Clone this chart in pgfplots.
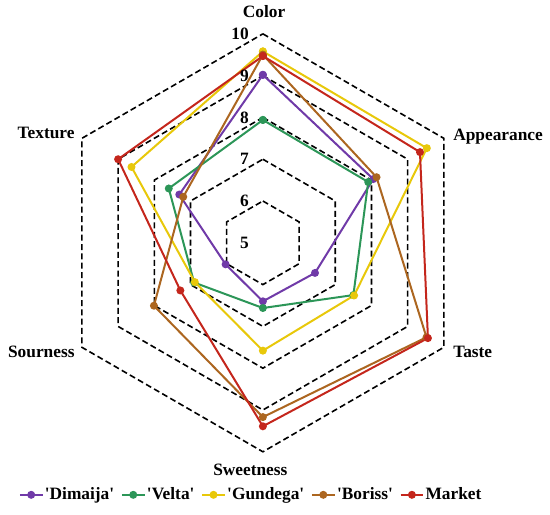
\documentclass[border=0pt]{standalone}
\usepackage{fontspec}
\setmainfont{Liberation Serif}
\usepackage{pgfplots}
\usepackage{pgfplotstable}
\pgfplotsset{compat=1.18}

\definecolor{cDim}{RGB}{112,58,168}
\definecolor{cVel}{RGB}{44,150,88}
\definecolor{cGun}{RGB}{232,200,10}
\definecolor{cBor}{RGB}{172,102,32}
\definecolor{cMar}{RGB}{196,38,28}

% sensory scores, one row per attribute (angle in degrees), first row repeated to close
\pgfplotstableread{
ang Dimaija Velta Gundega Boriss Market
90  9.02 7.94 9.58 9.50 9.47
30  8.05 7.91 9.53 8.14 9.34
-30 6.44 7.50 7.52 9.52 9.56
-90 6.40 6.56 7.58 9.17 9.39
210 6.03 6.90 6.88 8.01 7.28
150 7.31 7.60 8.63 7.20 9.00
90  9.02 7.94 9.58 9.50 9.47
}\scores

\begin{document}
\begin{tikzpicture}
\begin{axis}[
    x=31.35pt, y=31.35pt,
    xmin=-6.29, xmax=6.87, ymin=-6.51, ymax=5.81,
    hide axis, clip=false,
    font=\fontsize{13}{15}\selectfont\bfseries,
    legend columns=5,
    legend style={at={(rel axis cs:0.456,0.039)}, anchor=center, draw=none, fill=none,
        font=\fontsize{13}{15}\selectfont\bfseries, nodes={inner xsep=1pt},
        /tikz/every even column/.append style={column sep=4pt}},
    legend cell align=left,
    series/.style={line width=1.5pt, mark=*, mark size=2.2pt, mark options={solid}},
]
% dashed hexagonal rings at 6..10 (centre = 5)
\pgfplotsinvokeforeach{6,7,8,9,10}{
  \addplot[black, line width=1.2pt, dash pattern=on 4.5pt off 2.5pt, mark=none, forget plot]
    table[x expr={(#1-5)*cos(\thisrow{ang})}, y expr={(#1-5)*sin(\thisrow{ang})}] {\scores};
}
\addplot[series, cDim] table[x expr={(\thisrow{Dimaija}-5)*cos(\thisrow{ang})}, y expr={(\thisrow{Dimaija}-5)*sin(\thisrow{ang})}] {\scores};
\addplot[series, cVel] table[x expr={(\thisrow{Velta}-5)*cos(\thisrow{ang})}, y expr={(\thisrow{Velta}-5)*sin(\thisrow{ang})}] {\scores};
\addplot[series, cGun] table[x expr={(\thisrow{Gundega}-5)*cos(\thisrow{ang})}, y expr={(\thisrow{Gundega}-5)*sin(\thisrow{ang})}] {\scores};
\addplot[series, cBor] table[x expr={(\thisrow{Boriss}-5)*cos(\thisrow{ang})}, y expr={(\thisrow{Boriss}-5)*sin(\thisrow{ang})}] {\scores};
\addplot[series, cMar] table[x expr={(\thisrow{Market}-5)*cos(\thisrow{ang})}, y expr={(\thisrow{Market}-5)*sin(\thisrow{ang})}] {\scores};
\legend{\textquotesingle Dimaija\textquotesingle, \textquotesingle Velta\textquotesingle, \textquotesingle Gundega\textquotesingle, \textquotesingle Boriss\textquotesingle, Market}

% radial scale labels
\node[anchor=east, inner sep=0pt] at (axis cs:-0.33,0) {5};
\node[anchor=east, inner sep=0pt] at (axis cs:-0.33,1) {6};
\node[anchor=east, inner sep=0pt] at (axis cs:-0.33,2) {7};
\node[anchor=east, inner sep=0pt] at (axis cs:-0.33,3) {8};
\node[anchor=east, inner sep=0pt] at (axis cs:-0.33,4) {9};
\node[anchor=east, inner sep=0pt] at (axis cs:-0.33,5) {10};
% attribute labels
\node at (axis cs:0.03,5.53) {Color};
\node[anchor=west, inner sep=0pt] at (axis cs:4.55,2.54) {Appearance};
\node[anchor=west, inner sep=0pt] at (axis cs:4.55,-2.61) {Taste};
\node at (axis cs:-0.3,-5.43) {Sweetness};
\node[anchor=east, inner sep=0pt] at (axis cs:-4.5,-2.61) {Sourness};
\node[anchor=east, inner sep=0pt] at (axis cs:-4.5,2.63) {Texture};
\path (rel axis cs:0,0) rectangle (rel axis cs:1,1);
\end{axis}
\end{tikzpicture}
\end{document}
